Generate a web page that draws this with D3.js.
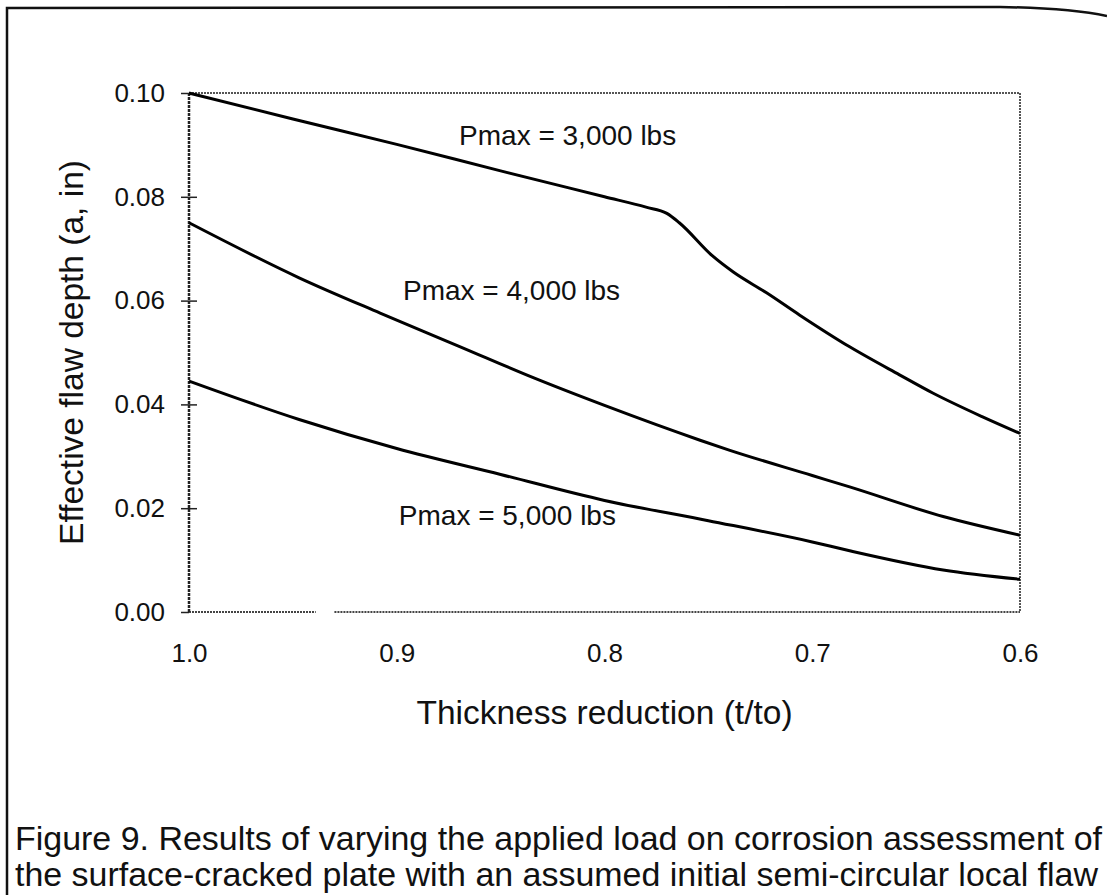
<!DOCTYPE html>
<html>
<head>
<meta charset="utf-8">
<script src="https://cdnjs.cloudflare.com/ajax/libs/d3/7.8.5/d3.min.js"></script>
<style>
    body { margin: 0; background: #fff; }
    text { font-family: "Liberation Sans", Arial, Helvetica, sans-serif; fill: #111; }
</style>
</head>
<body>
<div id="chart"></div>
<script>

var w = 1107,
    h = 895;

// axis ticks
var x_ticks = [1.0, 0.9, 0.8, 0.7, 0.6],
    y_ticks = [0.00, 0.02, 0.04, 0.06, 0.08, 0.10];

// Pmax = 3,000 lbs
var t_3000 = [1.00, 0.95, 0.90, 0.85, 0.80, 0.78, 0.77, 0.764, 0.748, 0.738, 0.722, 0.706, 0.682, 0.658, 0.642, 0.618, 0.60],
    a_3000 = [0.1000, 0.0950, 0.0901, 0.0850, 0.0800, 0.0780, 0.0768, 0.0750, 0.0686, 0.0655, 0.0615, 0.0572, 0.0511, 0.0457, 0.0422, 0.0376, 0.0344];

// Pmax = 4,000 lbs
var t_4000 = [1.00, 0.947, 0.908, 0.87, 0.834, 0.80, 0.754, 0.74, 0.70, 0.682, 0.637, 0.60],
    a_4000 = [0.0750, 0.0644, 0.0576, 0.0512, 0.0451, 0.0398, 0.0331, 0.0312, 0.0263, 0.0241, 0.0184, 0.0148];

// Pmax = 5,000 lbs
var t_5000 = [1.00, 0.947, 0.90, 0.85, 0.80, 0.75, 0.70, 0.682, 0.637, 0.60],
    a_5000 = [0.0445, 0.0371, 0.0315, 0.0265, 0.0215, 0.0176, 0.0135, 0.0118, 0.0081, 0.0063];

var series_names = ["Pmax = 3,000 lbs", "Pmax = 4,000 lbs", "Pmax = 5,000 lbs"];

var caption = [
    "Figure 9. Results of varying the applied load on corrosion assessment of",
    "the surface-cracked plate with an assumed initial semi-circular local flaw"
];

// builds point list from two arrays
function zip(ts, as) {
    return ts.map(function(t, i) { return {t: t, a: as[i]}; });
}

var series = [zip(t_3000, a_3000), zip(t_4000, a_4000), zip(t_5000, a_5000)];

// where the curve labels sit (left end, baseline), in data units
var label_at = [
    {t: 0.870, a: 0.0900},
    {t: 0.897, a: 0.0601},
    {t: 0.899, a: 0.0167}
];

var svg = d3.select("#chart").append("svg")
    .attr("width", w)
    .attr("height", h);

// plot box
var plot_l = 189, plot_r = 1020, plot_t = 93, plot_b = 612;

var x = d3.scaleLinear()
        .domain([1.0, 0.6])
        .range([plot_l, plot_r]),
    y = d3.scaleLinear()
        .domain([0, 0.10])
        .range([plot_b, plot_t]);

// outer frame (scanned page edge)
svg.append("path")
    .attr("d", "M7,895 L7,8 L1000,7 Q1070,8 1107,16")
    .attr("fill", "none")
    .attr("stroke", "#111")
    .attr("stroke-width", 2.5);

// top and right border, dotted
svg.append("path")
    .attr("d", "M" + x(1.0) + "," + y(0.10) + " L" + x(0.6) + "," + y(0.10) + " L" + x(0.6) + "," + y(0))
    .attr("fill", "none")
    .attr("stroke", "#555")
    .attr("stroke-width", 2)
    .attr("stroke-dasharray", "2,1");

// bottom axis, with the little gap from the scan
[[1.0, 0.939], [0.930, 0.6]].forEach(function(s) {
    svg.append("line")
        .attr("x1", x(s[0]))
        .attr("x2", x(s[1]))
        .attr("y1", y(0))
        .attr("y2", y(0))
        .attr("stroke", "#444")
        .attr("stroke-width", 2)
        .attr("stroke-dasharray", "2,1");
});

// left axis
svg.append("line")
    .attr("x1", x(1.0))
    .attr("x2", x(1.0))
    .attr("y1", y(0))
    .attr("y2", y(0.10))
    .attr("stroke", "#222")
    .attr("stroke-width", 2.5)
    .attr("stroke-dasharray", "3,1");

// y ticks and labels
var yaxis = d3.axisLeft(y)
    .tickValues(y_ticks)
    .tickFormat(d3.format(".2f"))
    .tickSizeInner(8)
    .tickSizeOuter(0)
    .tickPadding(16);

var yg = svg.append("g")
    .attr("transform", "translate(" + plot_l + ",0)")
    .call(yaxis);

yg.select(".domain").remove();

// inner ticks cross the axis, end ticks only stick out
yg.selectAll("line")
    .attr("stroke", "#222")
    .attr("stroke-width", 1.5)
    .attr("x2", -8)
    .attr("x1", function(d) { return (d === 0 || d === 0.10) ? 0 : 8; });
yg.selectAll("text")
    .attr("font-size", 26)
    .attr("font-family", "Liberation Sans, Arial, sans-serif")
    .attr("fill", "#111");

// x tick labels
var xaxis = d3.axisBottom(x)
    .tickValues(x_ticks)
    .tickFormat(d3.format(".1f"))
    .tickSize(0)
    .tickPadding(32);

var xg = svg.append("g")
    .attr("transform", "translate(0," + plot_b + ")")
    .call(xaxis);

xg.select(".domain").remove();
xg.selectAll("text")
    .attr("font-size", 26)
    .attr("font-family", "Liberation Sans, Arial, sans-serif")
    .attr("fill", "#111");

// axis titles
svg.append("text")
    .attr("x", (plot_l + plot_r) / 2)
    .attr("y", 724)
    .attr("text-anchor", "middle")
    .attr("font-size", 33.5)
    .text("Thickness reduction (t/to)");

svg.append("text")
    .attr("transform", "translate(83," + ((plot_t + plot_b) / 2) + ") rotate(-90)")
    .attr("text-anchor", "middle")
    .attr("font-size", 33.5)
    .text("Effective flaw depth (a, in)");

// curves
var line = d3.line()
    .x(function(d) { return x(d.t); })
    .y(function(d) { return y(d.a); })
    .curve(d3.curveMonotoneX);

svg.append("g")
    .selectAll("path")
    .data(series)
    .enter().append("path")
        .attr("d", line)
        .attr("fill", "none")
        .attr("stroke", "#000")
        .attr("stroke-width", 3)
        .attr("stroke-linejoin", "round");

// curve labels
svg.append("g")
    .selectAll("text")
    .data(series_names)
    .enter().append("text")
        .attr("x", function(d, i) { return x(label_at[i].t); })
        .attr("y", function(d, i) { return y(label_at[i].a); })
        .attr("font-size", 28)
        .text(function(d) { return d; });

// figure caption
svg.append("g")
    .selectAll("text")
    .data(caption)
    .enter().append("text")
        .attr("x", 15)
        .attr("y", function(d, i) { return 850 + i * 36; })
        .attr("font-size", 34)
        .attr("textLength", function(d, i) { return i === 0 ? 1087 : 1083; })
        .attr("lengthAdjust", "spacingAndGlyphs")
        .text(function(d) { return d; });

</script>
</body>
</html>
